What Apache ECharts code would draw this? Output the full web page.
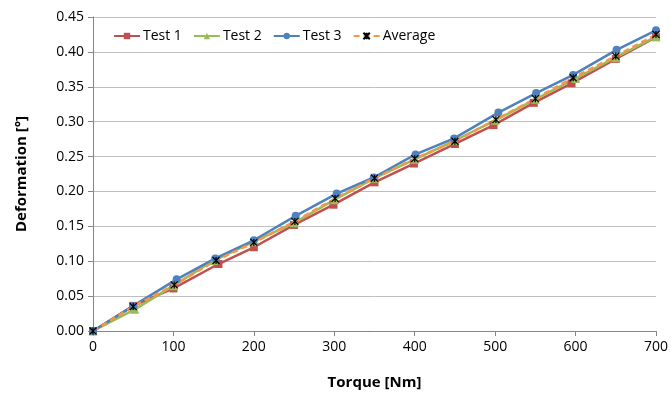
<!DOCTYPE html>
<html><head><meta charset="utf-8">
<script src="https://cdn.jsdelivr.net/npm/echarts@6/dist/echarts.min.js"></script>
<style>html,body{margin:0;padding:0;background:#fff}#c{width:671px;height:395px}</style>
</head><body><div id="c"></div>
<script>
var xTicks = [0, 100, 200, 300, 400, 500, 600, 700];
var test1X = [0, 50, 100, 156, 200, 250, 299, 350, 399, 450, 498, 548, 595, 650, 700];
var test1Y = [0, 0.036, 0.061, 0.096, 0.120, 0.152, 0.181, 0.213, 0.240, 0.268, 0.295, 0.327, 0.355, 0.390, 0.421];
var test2X = [0, 52, 100, 150, 200, 250, 300, 350, 400, 450, 500, 550, 600, 650, 700];
var test2Y = [0, 0.031, 0.065, 0.101, 0.128, 0.155, 0.188, 0.219, 0.246, 0.273, 0.302, 0.332, 0.362, 0.392, 0.422];
var test3X = [0, 50, 104, 152, 200, 252, 303, 349, 401, 449, 504, 551, 597, 651, 700];
var test3Y = [0, 0.036, 0.074, 0.104, 0.130, 0.165, 0.197, 0.220, 0.253, 0.276, 0.313, 0.341, 0.367, 0.403, 0.431];
var avgX = [0, 50, 101, 153, 200, 251, 301, 350, 400, 450, 501, 550, 597, 650, 700];
var avgY = [0, 0.035, 0.066, 0.101, 0.127, 0.157, 0.190, 0.219, 0.247, 0.272, 0.303, 0.333, 0.363, 0.394, 0.425];

function pairs(xs, ys){ return xs.map(function(x,i){ return [x, ys[i]]; }); }
var chart = echarts.init(document.getElementById('c'));
var font = 'Open Sans';
chart.setOption({
  animation:false,
  grid:{left:93, right:13, top:17, bottom:63},
  legend:{
    top:24, left:108, itemWidth:26, itemHeight:8, itemGap:11,
    textStyle:{fontFamily:font, fontSize:14, color:'#000', padding:[0,0,0,-2]},
    data:['Test 1','Test 2','Test 3','Average']
  },
  xAxis:{
    type:'value', min:0, max:700, interval:100,
    name:'Torque [Nm]', nameLocation:'middle', nameGap:44,
    nameTextStyle:{fontFamily:font, fontSize:15, fontWeight:'bold', color:'#000'},
    axisLine:{lineStyle:{color:'#868686', width:1}},
    axisTick:{show:true, length:5, lineStyle:{color:'#868686'}},
    axisLabel:{fontFamily:font, fontSize:14, color:'#000', margin:9,
      customValues: xTicks},
    splitLine:{show:false}
  },
  yAxis:{
    type:'value', min:0, max:0.45, interval:0.05,
    name:'Deformation [°]', nameLocation:'middle', nameGap:64, nameRotate:90,
    nameTextStyle:{fontFamily:font, fontSize:15, fontWeight:'bold', color:'#000'},
    axisLine:{show:true, lineStyle:{color:'#868686', width:1}},
    axisTick:{show:true, length:5, lineStyle:{color:'#868686'}},
    axisLabel:{fontFamily:font, fontSize:14, color:'#000', margin:9,
      formatter:function(v){return v.toFixed(2);}},
    splitLine:{lineStyle:{color:'#bfbfbf', width:1}}
  },
  series:[
    {name:'Test 1', type:'line', data:pairs(test1X,test1Y), symbol:'rect', symbolSize:8,
     lineStyle:{color:'#C0504D', width:2.5}, itemStyle:{color:'#C0504D'}},
    {name:'Test 2', type:'line', data:pairs(test2X,test2Y), symbol:'triangle', symbolSize:9,
     lineStyle:{color:'#9BBB59', width:2.5}, itemStyle:{color:'#9BBB59'}},
    {name:'Test 3', type:'line', data:pairs(test3X,test3Y), symbol:'circle', symbolSize:8,
     lineStyle:{color:'#4F81BD', width:2.5}, itemStyle:{color:'#4F81BD'}},
    {name:'Average', type:'line', data:pairs(avgX,avgY),
     symbol:'path://M0,0L10,10M10,0L0,10M5,0L5,10', symbolSize:7,
     lineStyle:{color:'#F79646', width:2.5, type:[6,4]},
     itemStyle:{color:'#F79646', borderColor:'#000', borderWidth:1.2}}
  ]
});
</script></body></html>
